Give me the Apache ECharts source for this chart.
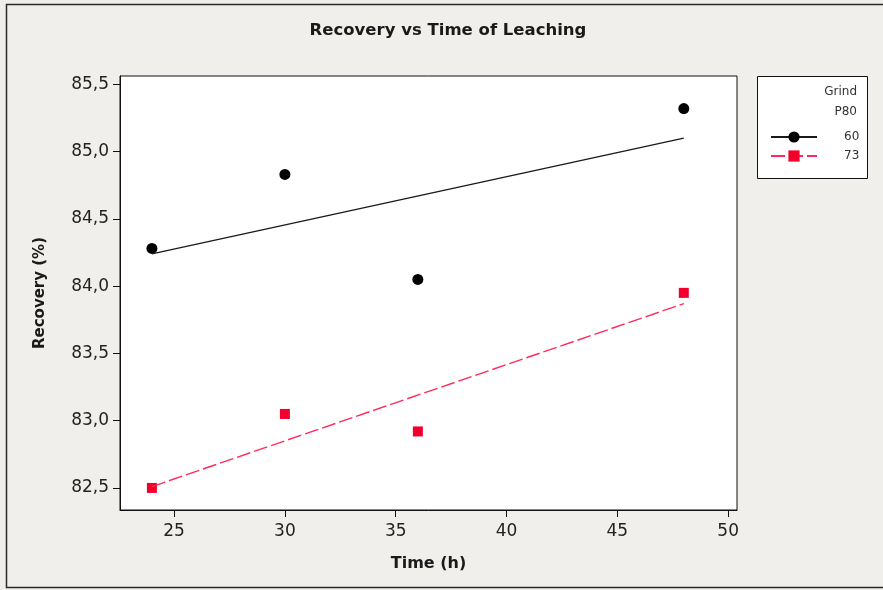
<!DOCTYPE html>
<html>
<head>
<meta charset="utf-8">
<script src="https://cdn.jsdelivr.net/npm/echarts@6/dist/echarts.min.js"></script>
<style>
  html, body { margin: 0; padding: 0; background: #f1efeb; }
  #chart { width: 883px; height: 590px; }
</style>
</head>
<body>
<div id="chart"></div>
<script>
// Leaching time (h) for each test
const times = [24, 30, 36, 48];
// Recovery (%) by grind size P80
const recovery60 = [84.28, 84.83, 84.05, 85.32];
const recovery73 = [82.50, 83.05, 82.92, 83.95];
// Fitted trend lines, values at first and last time
const fitTimes = [24, 48];
const fit60 = [84.24, 85.10];
const fit73 = [82.51, 83.87];
// Axis tick values
const xTicks = [25, 30, 35, 40, 45, 50];
const yTicks = [82.5, 83.0, 83.5, 84.0, 84.5, 85.0, 85.5];

const font = 'DejaVu Sans';
const pairs = (xs, ys) => xs.map((x, i) => [x, ys[i]]);

const chart = echarts.init(document.getElementById('chart'));
chart.setOption({
  backgroundColor: '#f1efeb',
  animation: false,
  title: {
    text: 'Recovery vs Time of Leaching',
    left: 443, top: 17, textAlign: 'center',
    textStyle: { fontFamily: font, fontSize: 16.5, fontWeight: 'bold', color: '#1a1a1a' }
  },
  graphic: [
    { type: 'rect', z: -10, shape: { x: 6.5, y: 4.5, width: 880, height: 583 },
      style: { fill: '#f1efeb', stroke: '#2a2a2a', lineWidth: 1.5 } },
    { type: 'rect', z: 0, shape: { x: 757.5, y: 76.5, width: 110, height: 102 },
      style: { fill: '#ffffff', stroke: '#111', lineWidth: 1 } },
    { type: 'text', z: 1, x: 857, y: 86,
      style: { text: 'Grind', align: 'right', fontFamily: font, fontSize: 12, fill: '#333' } },
    { type: 'text', z: 1, x: 857, y: 106,
      style: { text: 'P80', align: 'right', fontFamily: font, fontSize: 12, fill: '#333' } }
  ],
  legend: {
    data: ['60', '73'],
    orient: 'vertical',
    left: 765, top: 126,
    itemWidth: 46, itemHeight: 14, itemGap: 7,
    selectedMode: false,
    textStyle: { fontFamily: font, fontSize: 12, color: '#333', padding: [0, 0, 0, 22] }
  },
  grid: {
    left: 120, right: 146, top: 76, bottom: 80,
    show: true, backgroundColor: '#ffffff', borderColor: '#111', borderWidth: 1
  },
  xAxis: {
    type: 'value', min: 22.56, max: 50.4,
    name: 'Time (h)', nameLocation: 'middle', nameGap: 46,
    nameTextStyle: { fontFamily: font, fontSize: 16, fontWeight: 'bold', color: '#1a1a1a' },
    axisLine: { show: true, lineStyle: { color: '#111', width: 1 } },
    axisTick: { show: true, length: 7, customValues: xTicks, lineStyle: { color: '#111' } },
    axisLabel: { customValues: xTicks, margin: 13, fontFamily: font, fontSize: 17, color: '#222' },
    splitLine: { show: false }
  },
  yAxis: {
    type: 'value', min: 82.336, max: 85.562,
    name: 'Recovery (%)', nameLocation: 'middle', nameGap: 72, nameRotate: 90,
    nameTextStyle: { fontFamily: font, fontSize: 15, fontWeight: 'bold', color: '#1a1a1a' },
    axisLine: { show: true, lineStyle: { color: '#111', width: 1 } },
    axisTick: { show: true, length: 7, customValues: yTicks, lineStyle: { color: '#111' } },
    axisLabel: {
      customValues: yTicks, margin: 11, fontFamily: font, fontSize: 17, color: '#222',
      formatter: v => v.toFixed(1).replace('.', ',')
    },
    splitLine: { show: false }
  },
  series: [
    {
      name: '60', type: 'line', data: pairs(fitTimes, fit60),
      symbol: 'circle', symbolSize: 11, showSymbol: false,
      itemStyle: { color: '#000', opacity: 1 },
      lineStyle: { color: '#1a1a1a', width: 1.4 }
    },
    {
      name: '73', type: 'line', data: pairs(fitTimes, fit73),
      symbol: 'rect', symbolSize: 10, showSymbol: false,
      itemStyle: { color: '#f0002a', opacity: 1 },
      lineStyle: { color: '#ff2a5a', width: 1.4, type: [14, 4] }
    },
    {
      name: 'P80 60', type: 'scatter', data: pairs(times, recovery60),
      symbol: 'circle', symbolSize: 11, itemStyle: { color: '#000', opacity: 1 }
    },
    {
      name: 'P80 73', type: 'scatter', data: pairs(times, recovery73),
      symbol: 'rect', symbolSize: 10, itemStyle: { color: '#f0002a', opacity: 1 }
    }
  ]
});
</script>
</body>
</html>
